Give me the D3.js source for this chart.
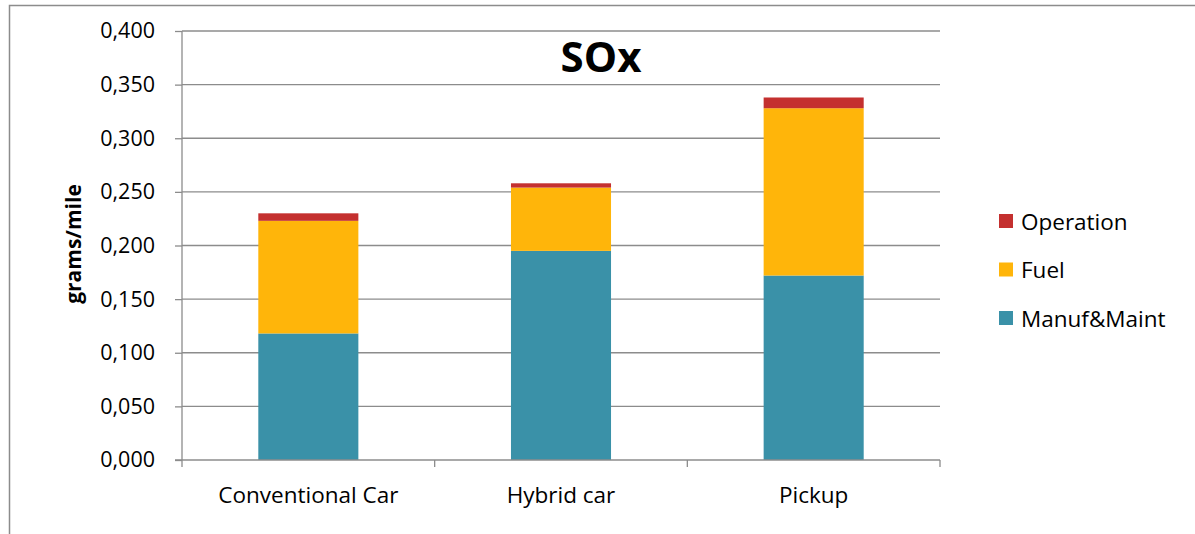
<!DOCTYPE html>
<html>
<head>
<meta charset="utf-8">
<script src="https://cdn.jsdelivr.net/npm/d3@7"></script>
<style>
  body { margin: 0; background: #fff; }
  text { font-family: "Open Sans", sans-serif; fill: #000; }
</style>
</head>
<body>
<svg width="1195" height="534"></svg>
<script>
// values
var categories = ["Conventional Car", "Hybrid car", "Pickup"];
var seriesNames = ["Manuf&Maint", "Fuel", "Operation"];
var manufMaint = [0.118, 0.195, 0.172];
var fuel = [0.105, 0.059, 0.156];
var operation = [0.007, 0.004, 0.010];
var yTicks = [0, 0.05, 0.1, 0.15, 0.2, 0.25, 0.3, 0.35, 0.4];
var colors = ["#3a91a8", "#ffb50a", "#c4302f"];

var rows = categories.map(function (c, i) {
    return { cat: c, "Manuf&Maint": manufMaint[i], "Fuel": fuel[i], "Operation": operation[i] };
});

var svg = d3.select("svg");
var plotL = 182, plotR = 940, plotT = 31, plotB = 460;

// outer frame (only left and top edges visible)
svg.append("path")
    .attr("d", "M9.5,534V5.5H1195")
    .attr("fill", "none").attr("stroke", "#8c8c8c").attr("stroke-width", 1.5);

var scX = d3.scaleBand().domain(categories).range([plotL, plotR]).paddingInner(0.604).paddingOuter(0.302);
var scY = d3.scaleLinear().domain([0, 0.4]).range([plotB, plotT]);

// gridlines
svg.append("g").selectAll("line").data(yTicks.slice(1)).enter().append("line")
    .attr("x1", plotL).attr("x2", plotR)
    .attr("y1", d => scY(d)).attr("y2", d => scY(d))
    .attr("stroke", "#8c8c8c").attr("stroke-width", 1.3);

var stack = d3.stack().keys(seriesNames)(rows);
svg.append("g").selectAll("g").data(stack).enter().append("g")
    .attr("fill", (d, i) => colors[i])
    .selectAll("rect").data(d => d).enter().append("rect")
    .attr("x", d => scX(d.data.cat))
    .attr("width", scX.bandwidth())
    .attr("y", d => scY(d[1]))
    .attr("height", d => scY(d[0]) - scY(d[1]));

// y axis
var yAxis = svg.append("g").attr("transform", "translate(" + plotL + ",0)")
    .call(d3.axisLeft(scY).tickValues(yTicks).tickSize(7).tickPadding(20)
        .tickFormat(d => d3.format(".3f")(d).replace(".", ",")));
yAxis.selectAll("line, path").attr("stroke", "#8c8c8c").attr("stroke-width", 1.3);
yAxis.select("path").attr("d", "M0," + plotT + "V" + plotB);
yAxis.selectAll("text").attr("font-size", 21.5).attr("font-family", "'Open Sans', sans-serif");

// x axis with ticks at category boundaries
var xg = svg.append("g");
xg.append("line").attr("x1", plotL - 7).attr("x2", plotR).attr("y1", plotB).attr("y2", plotB)
    .attr("stroke", "#8c8c8c").attr("stroke-width", 1.3);
var bounds = d3.range(categories.length + 1).map(i => plotL + i * (plotR - plotL) / categories.length);
xg.selectAll(".bt").data(bounds).enter().append("line")
    .attr("x1", d => d).attr("x2", d => d).attr("y1", plotB).attr("y2", plotB + 7)
    .attr("stroke", "#8c8c8c").attr("stroke-width", 1.3);
xg.selectAll("text").data(categories).enter().append("text")
    .attr("x", d => scX(d) + scX.bandwidth() / 2).attr("y", plotB + 43)
    .attr("text-anchor", "middle").attr("font-size", 22.5).text(d => d);

// title
svg.append("text").attr("x", 601).attr("y", 72).attr("text-anchor", "middle")
    .attr("font-size", 42).attr("font-weight", "bold").text("SOx");

// y label
svg.append("text").attr("transform", "translate(81,244) rotate(-90)")
    .attr("text-anchor", "middle").attr("font-size", 21).attr("font-weight", "bold")
    .text("grams/mile");

// legend
var legend = svg.append("g").selectAll("g").data(seriesNames.slice().reverse()).enter().append("g")
    .attr("transform", (d, i) => "translate(999," + (214 + i * 48.5) + ")");
legend.append("rect").attr("width", 14).attr("height", 14)
    .attr("fill", d => colors[seriesNames.indexOf(d)]);
legend.append("text").attr("x", 22).attr("y", 15.5).attr("font-size", 22.5).text(d => d);
</script>
</body>
</html>
